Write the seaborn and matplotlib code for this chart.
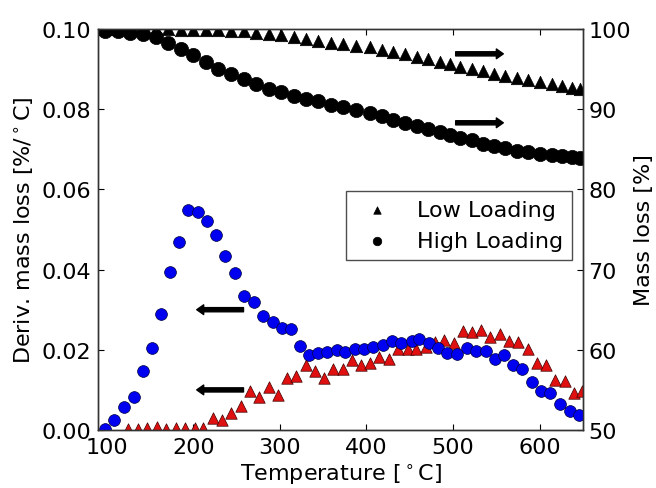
import matplotlib
matplotlib.use('Agg')
from matplotlib import pyplot as plt
import seaborn as sns

# derivative curves (left axis)
high_deriv_T = [98, 109, 120, 131, 142, 152, 163, 173, 183, 194, 205, 216, 226, 237,
                248, 259, 270, 281, 292, 303, 313, 323, 334, 344, 354, 366, 375, 387,
                397, 407, 419, 430, 440, 452, 461, 472, 483, 493, 505, 516, 526, 538,
                548, 559, 569, 580, 591, 602, 612, 624, 635, 645]
high_deriv = [0.0003, 0.0025, 0.0057, 0.0083, 0.0147, 0.0204, 0.0290, 0.0395, 0.0470, 0.0548,
              0.0543, 0.0521, 0.0487, 0.0434, 0.0391, 0.0334, 0.0320, 0.0285, 0.0269, 0.0255,
              0.0251, 0.0209, 0.0186, 0.0193, 0.0194, 0.0200, 0.0194, 0.0201, 0.0203, 0.0208,
              0.0213, 0.0221, 0.0216, 0.0222, 0.0226, 0.0218, 0.0204, 0.0193, 0.0189, 0.0204,
              0.0197, 0.0197, 0.0177, 0.0186, 0.0163, 0.0151, 0.0119, 0.0097, 0.0093, 0.0065,
              0.0047, 0.0038]

low_deriv_T = [125, 136, 147, 158, 169, 180, 191, 202, 211, 223, 233, 244, 255, 266, 276,
               288, 298, 308, 319, 330, 340, 351, 361, 373, 383, 394, 404, 415, 426, 436,
               448, 457, 469, 479, 490, 501, 512, 522, 532, 543, 554, 565, 575, 586, 597,
               607, 618, 629, 640, 649]
low_deriv = [0.0002, 0.0003, 0.0004, 0.0007, 0.0002, 0.0004, 0.0004, 0.0004, 0.0005, 0.0029,
             0.0025, 0.0043, 0.0060, 0.0098, 0.0082, 0.0107, 0.0087, 0.0130, 0.0134, 0.0161,
             0.0147, 0.0130, 0.0151, 0.0151, 0.0175, 0.0163, 0.0166, 0.0182, 0.0176, 0.0203,
             0.0201, 0.0202, 0.0207, 0.0220, 0.0224, 0.0216, 0.0247, 0.0244, 0.0250, 0.0233,
             0.0240, 0.0222, 0.0219, 0.0203, 0.0167, 0.0161, 0.0125, 0.0122, 0.0093, 0.0097]

# mass loss curves (right axis)
mass_T = [98, 113, 127, 142, 157, 171, 186, 200, 215, 229, 244, 258, 272, 287, 301,
          316, 330, 344, 359, 373, 388, 404, 418, 431, 445, 458, 471, 485, 497, 508,
          522, 534, 547, 560, 574, 587, 600, 614, 626, 637, 647]
mass_high = [99.8, 99.7, 99.5, 99.4, 99.0, 98.3, 97.5, 96.7, 95.9, 95.0, 94.4, 93.8, 93.1,
             92.5, 92.1, 91.7, 91.3, 91.0, 90.5, 90.3, 89.9, 89.5, 89.1, 88.7, 88.3, 87.9,
             87.5, 87.2, 86.8, 86.4, 86.1, 85.7, 85.4, 85.1, 84.8, 84.6, 84.4, 84.3, 84.2,
             84.0, 83.9]
mass_low = [100.0, 100.0, 100.0, 100.0, 99.95, 99.95, 99.9, 99.9, 99.9, 99.85, 99.8, 99.7,
            99.5, 99.4, 99.2, 99.0, 98.8, 98.5, 98.3, 98.1, 97.9, 97.7, 97.4, 97.1, 96.9,
            96.5, 96.3, 95.9, 95.6, 95.3, 95.0, 94.7, 94.4, 94.1, 93.9, 93.6, 93.4, 93.1,
            92.9, 92.7, 92.5]

x_ticks = [100, 200, 300, 400, 500, 600]
left_ticks = [0.00, 0.02, 0.04, 0.06, 0.08, 0.10]
right_ticks = [50, 60, 70, 80, 90, 100]

sns.set_style('ticks')
plt.rcParams['font.family'] = ['DejaVu Sans']
plt.rcParams['font.size'] = 16
plt.rcParams['mathtext.default'] = 'regular'
plt.rcParams['text.color'] = 'black'
plt.rcParams['axes.labelcolor'] = 'black'
plt.rcParams['xtick.color'] = 'black'
plt.rcParams['ytick.color'] = 'black'

fig, ax = plt.subplots(figsize=(6.56, 4.89), dpi=100)
fig.subplots_adjust(left=0.1494, right=0.8887, top=0.9387, bottom=0.1186)

sns.scatterplot(x=low_deriv_T, y=low_deriv, ax=ax, marker='^', color='#e01010',
                s=68, edgecolor='#400000', linewidth=0.5, zorder=2)
sns.scatterplot(x=high_deriv_T, y=high_deriv, ax=ax, marker='o', color='#0000f0',
                s=72, edgecolor='#000040', linewidth=0.5, zorder=3)

ax2 = ax.twinx()
sns.scatterplot(x=mass_T, y=mass_low, ax=ax2, marker='^', color='k', s=80,
                edgecolor='k', linewidth=0.5, label='Low Loading')
sns.scatterplot(x=mass_T, y=mass_high, ax=ax2, marker='o', color='k', s=105,
                edgecolor='k', linewidth=0.5, label='High Loading')

ax.set_xlim(90, 650)
ax.set_ylim(0, 0.10)
ax2.set_ylim(50, 100)
ax.set_xticks(x_ticks)
ax.set_yticks(left_ticks)
ax.set_yticklabels(['%.2f' % v for v in left_ticks])
ax2.set_yticks(right_ticks)

ax.tick_params(direction='in', top=True, right=False, length=4, width=0.8, pad=5)
ax2.tick_params(direction='in', length=4, width=0.8, pad=4)
for a in (ax, ax2):
    for sp in a.spines.values():
        sp.set_color('0.2')
        sp.set_linewidth(1.0)

ax.set_xlabel(r'Temperature [$^\circ$C]', labelpad=3)
ax.set_ylabel(r'Deriv. mass loss [%/$^\circ$C]', labelpad=4)
ax2.set_ylabel('Mass loss [%]', labelpad=2)

# arrows pointing to the axis each curve belongs to
arrow = dict(facecolor='black', edgecolor='black', width=3, headwidth=7, headlength=5, shrink=0)
ax.annotate('', xy=(204, 0.030), xytext=(258, 0.030), arrowprops=arrow)
ax.annotate('', xy=(204, 0.010), xytext=(258, 0.010), arrowprops=arrow)
ax2.annotate('', xy=(558, 96.9), xytext=(503, 96.9), arrowprops=arrow)
ax2.annotate('', xy=(558, 88.3), xytext=(503, 88.3), arrowprops=arrow)

leg = ax2.legend(loc='upper right', bbox_to_anchor=(0.977, 0.596), borderaxespad=0,
                 fancybox=False, framealpha=1, edgecolor='0.3', scatterpoints=1,
                 markerscale=0.6)
leg.get_frame().set_linewidth(1.0)

fig.savefig('out.png', dpi=100)
